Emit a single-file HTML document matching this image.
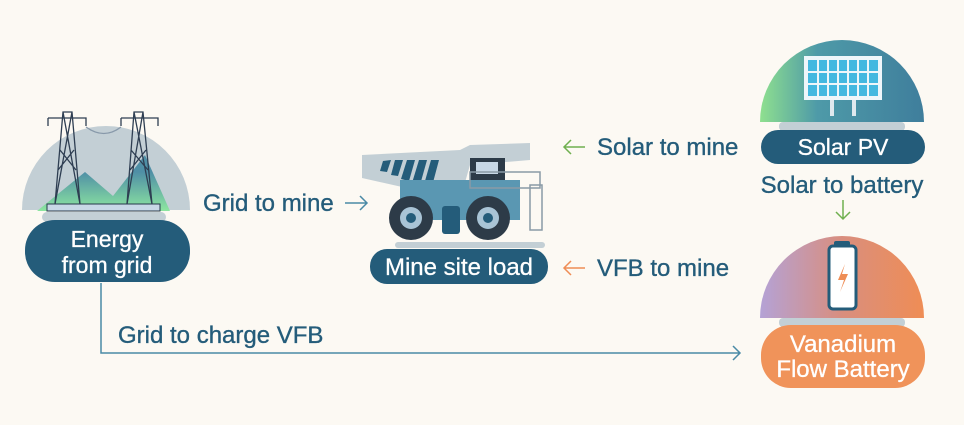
<!DOCTYPE html>
<html><head><style>
body{margin:0;background:#fcf9f3;}
svg text{font-family:"Liberation Sans",sans-serif;}
.l{stroke:#245c7a;stroke-width:0.35px;}
.w{stroke:#fff;stroke-width:0.3px;}
</style></head><body>
<svg width="964" height="420" viewBox="0 0 964 420" xmlns="http://www.w3.org/2000/svg">
<defs>
<linearGradient id="sol" x1="0" x2="1"><stop offset="0" stop-color="#8fe08f"/><stop offset="0.35" stop-color="#4e9aa8"/><stop offset="1" stop-color="#3f7e9c"/></linearGradient>
<linearGradient id="bat" x1="0" x2="1"><stop offset="0" stop-color="#b4a2d6"/><stop offset="0.5" stop-color="#d98e7e"/><stop offset="1" stop-color="#ef8d55"/></linearGradient>
<linearGradient id="mt" x1="0" y1="0" x2="0" y2="1"><stop offset="0.3" stop-color="#4f8fa6"/><stop offset="1" stop-color="#8de6a0"/></linearGradient>
</defs>
<rect width="964" height="420" fill="#fcf9f3"/>
<!-- Grid node -->
<path d="M22 210 A84 84 0 0 1 190 210 Z" fill="#c3cfd5"/>
<polygon points="37,211 85,172 113,196 145,155 170,211" fill="url(#mt)"/>
<rect x="47" y="204" width="113" height="7" fill="#c8d8e6" stroke="#26394a" stroke-width="1"/>
<g stroke="#2e3e52" stroke-width="1.3" fill="none">
<path d="M55 204 L63 112 L72 112 L80 204 M63 112 L80 204 M72 112 L55 204 M60 150 L76 170 M74 150 L58 170"/>
<path d="M48 118 L48 126 M48 118 L86 118 L86 126"/>
<path d="M127 204 L134 112 L143 112 L152 204 M134 112 L152 204 M143 112 L127 204 M131 150 L148 170 M146 150 L130 170"/>
<path d="M121 118 L121 126 M121 118 L158 118 L158 126"/>
<path d="M86 127 Q104 140 121 127" stroke="#8899aa"/>
</g>
<rect x="42" y="212" width="124" height="10" rx="5" fill="#c3cfd5"/>
<rect x="25" y="220" width="165" height="62" rx="30" fill="#245c7a"/>
<text class="w" x="107" y="247" font-size="23" fill="#fff" text-anchor="middle">Energy</text>
<text class="w" x="107" y="273" font-size="23" fill="#fff" text-anchor="middle">from grid</text>
<text class="l" x="203" y="211" font-size="24" fill="#245c7a">Grid to mine</text>
<path d="M345 203 L367 203 M360 196 L367 203 L360 210" stroke="#4a8aa6" stroke-width="1.5" fill="none"/>
<!-- Truck -->
<rect x="395" y="242" width="150" height="6" rx="3" fill="#c3cfd5"/>
<polygon points="362,155 460,150 470,145 530,143 530,160 470,165 460,200 362,178" fill="#c3cfd5"/>
<g fill="#245c7a"><polygon points="383,161 391,160 387,172 380,171"/><polygon points="395,160 403,160 398,176 391,175"/><polygon points="407,160 415,160 409,181 401,179"/><polygon points="419,160 427,160 420,185 412,183"/><polygon points="431,160 439,160 431,190 423,188"/></g>
<rect x="400" y="180" width="120" height="40" fill="#5a97b2"/>
<rect x="470" y="158" width="35" height="22" fill="#2d3b48"/>
<rect x="476" y="162" width="22" height="12" fill="#c8d8e6"/>
<rect x="470" y="172" width="70" height="16" fill="none" stroke="#8a9aa6" stroke-width="1.5"/>
<rect x="530" y="185" width="12" height="45" fill="none" stroke="#8a9aa6" stroke-width="1.5"/>
<rect x="442" y="206" width="18" height="28" rx="3" fill="#245c7a"/>
<circle cx="411" cy="218" r="22" fill="#2d3b48"/><circle cx="411" cy="218" r="11" fill="#a9c4d6"/><circle cx="411" cy="218" r="5" fill="#245c7a"/>
<circle cx="488" cy="218" r="22" fill="#2d3b48"/><circle cx="488" cy="218" r="11" fill="#a9c4d6"/><circle cx="488" cy="218" r="5" fill="#245c7a"/>
<rect x="370" y="249" width="178" height="35" rx="17" fill="#245c7a"/>
<text class="w" x="459" y="275" font-size="24" fill="#fff" text-anchor="middle">Mine site load</text>
<!-- middle arrows -->
<path d="M585 147 L564 147 M571 140 L564 147 L571 154" stroke="#6fb04f" stroke-width="1.5" fill="none"/>
<text class="l" x="597" y="155" font-size="24" fill="#245c7a">Solar to mine</text>
<path d="M585 268 L564 268 M571 261 L564 268 L571 275" stroke="#ef8d55" stroke-width="1.5" fill="none"/>
<text class="l" x="597" y="276" font-size="24" fill="#245c7a">VFB to mine</text>
<!-- Solar -->
<path d="M760 122 A82 82 0 0 1 924 122 Z" fill="url(#sol)"/>
<rect x="804" y="56" width="78" height="44" fill="#eef6fa"/>
<rect x="808" y="60" width="70" height="36" fill="#43b8e0"/>
<g stroke="#eef6fa" stroke-width="2"><path d="M818 60V96M828 60V96M838 60V96M848 60V96M858 60V96M868 60V96M808 72H878M808 84H878"/></g>
<rect x="830" y="100" width="4" height="16" fill="#dfe9ee"/><rect x="852" y="100" width="4" height="16" fill="#dfe9ee"/>
<rect x="779" y="122" width="126" height="9" rx="4" fill="#c3cfd5"/>
<rect x="761" y="130" width="164" height="34" rx="17" fill="#245c7a"/>
<text class="w" x="843" y="155" font-size="23" fill="#fff" text-anchor="middle">Solar PV</text>
<text class="l" x="842" y="193" font-size="24" fill="#245c7a" text-anchor="middle">Solar to battery</text>
<path d="M843 200 L843 219 M836 212 L843 219 L850 212" stroke="#6fb04f" stroke-width="1.5" fill="none"/>
<!-- Battery -->
<path d="M760 318 A82 82 0 0 1 924 318 Z" fill="url(#bat)"/>
<rect x="834" y="241" width="16" height="6" rx="2" fill="#245c7a"/>
<rect x="829" y="246" width="27" height="63" rx="4" fill="#fff" stroke="#245c7a" stroke-width="3"/>
<path d="M845 264 L838 280 L844 280 L840 292 L848 274 L842 274 Z" fill="#ef8d55"/>
<rect x="779" y="318" width="126" height="9" rx="4" fill="#c3cfd5"/>
<rect x="761" y="325" width="164" height="63" rx="30" fill="#f0935a"/>
<text class="w" x="843" y="352" font-size="24" fill="#fff" text-anchor="middle">Vanadium</text>
<text class="w" x="843" y="377" font-size="24" fill="#fff" text-anchor="middle">Flow Battery</text>
<!-- Grid to charge -->
<path d="M101 283 L101 353 L740 353 M733 346 L740 353 L733 360" stroke="#4a8aa6" stroke-width="1.5" fill="none"/>
<text class="l" x="118" y="343" font-size="24" fill="#245c7a">Grid to charge VFB</text>
</svg>
</body></html>
